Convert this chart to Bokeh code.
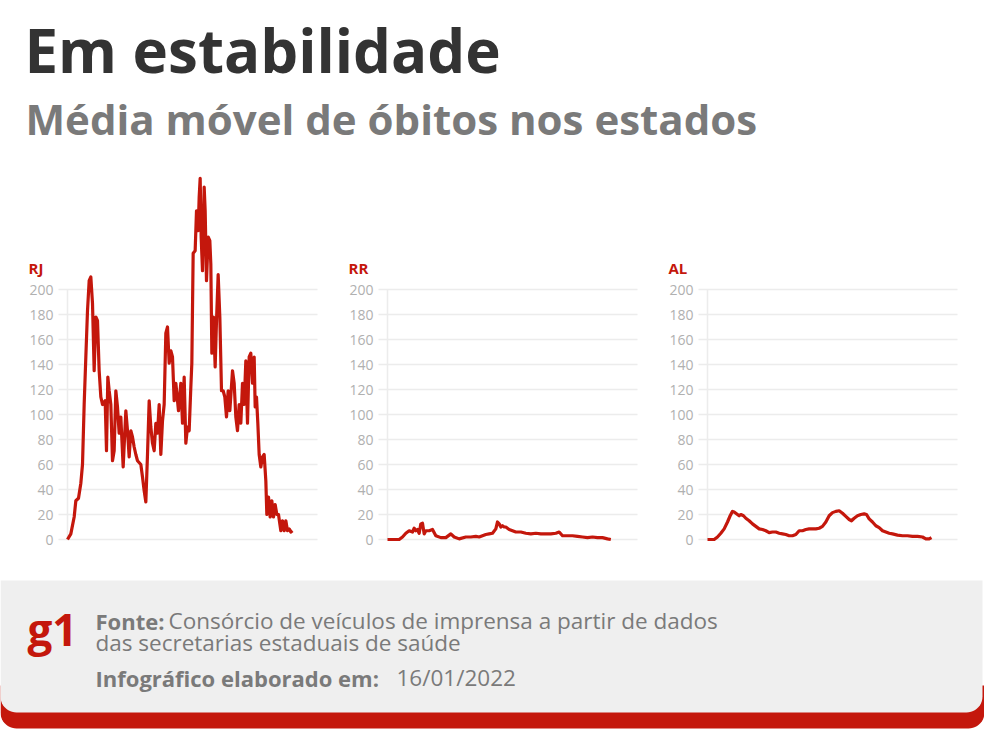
import numpy as np
from bokeh.plotting import figure
from bokeh.layouts import column, row
from bokeh.models import Range1d, Label
from bokeh.core.properties import value
from bokeh.embed import file_html
from bokeh.resources import INLINE

# ---------------- data ----------------
title_text = "Em estabilidade"
subtitle_text = "Média móvel de óbitos nos estados"
source_bold = "Fonte:"
source_text_1 = "Consórcio de veículos de imprensa a partir de dados"
source_text_2 = "das secretarias estaduais de saúde"
made_bold = "Infográfico elaborado em:"
made_date = "16/01/2022"

y_ticks = [0, 20, 40, 60, 80, 100, 120, 140, 160, 180, 200]
y_tick_labels = ["0", "20", "40", "60", "80", "100", "120", "140", "160", "180", "200"]

rj_days = [0, 10, 20, 25, 33, 40, 45, 50, 55, 60, 65, 70, 75, 80, 85, 90, 95, 100, 105, 113,
           117, 121, 125, 130, 135, 140, 145, 150, 155, 160, 167, 175, 180, 185, 190, 195, 200, 205, 210, 220,
           225, 230, 235, 240, 245, 250, 255, 260, 265, 270, 275, 280, 285, 290, 295, 300, 305, 310, 315, 320,
           325, 333, 340, 345, 350, 355, 360, 365, 370, 373, 377, 383, 387, 392, 395, 398, 401, 405, 410, 413,
           417, 422, 427, 430, 433, 438, 443, 447, 452, 457, 462, 467, 472, 477, 482, 487, 495, 500, 505, 510,
           515, 520, 525, 530, 535, 540, 545, 550, 555, 560, 563, 567, 571, 575, 580, 585, 590, 595, 598, 603,
           608, 613, 618, 623, 628, 633, 640, 645, 650, 655, 660, 665, 670, 675]
rj_vals = [0, 4.5, 18, 31, 33, 45, 60, 108, 146, 183, 207, 210, 189, 135, 178, 175, 135, 114, 108, 111,
           71, 130, 119, 108, 63, 71, 119, 106, 85, 98, 58, 103, 87, 66, 87, 82, 74, 68, 63, 60,
           50, 39, 30, 68, 111, 90, 77, 71, 93, 85, 108, 68, 95, 108, 165, 170, 141, 151, 146, 111,
           125, 103, 125, 93, 130, 77, 90, 87, 122, 141, 229, 231, 263, 247, 274, 289, 242, 215, 282, 263,
           207, 242, 239, 220, 149, 178, 138, 175, 212, 178, 119, 119, 114, 98, 119, 103, 135, 125, 98, 87,
           108, 93, 125, 108, 143, 93, 146, 149, 125, 146, 106, 114, 93, 68, 58, 66, 68, 47, 20, 34,
           18, 31, 18, 28, 20, 20, 7, 15, 7, 15, 7, 8.5, 6, 7]

rr_days = [0, 35, 45, 55, 65, 75, 80, 85, 90, 95, 100, 105, 110, 115, 125, 135, 145, 160, 175, 190,
           200, 215, 235, 250, 265, 275, 285, 295, 305, 315, 325, 330, 335, 340, 345, 350, 355, 365, 375, 385,
           400, 415, 430, 445, 460, 475, 490, 505, 515, 525, 540, 555, 570, 585, 600, 615, 630, 645, 660, 670]
rr_vals = [0, 0, 2, 5, 7, 6, 9, 7, 8, 5, 12.5, 13, 4.5, 7, 7, 8, 3, 1.5, 1.5, 4.5,
           2, 0.5, 2, 2, 2.5, 2, 3, 4, 4.5, 5, 8.5, 14, 12.5, 10, 11, 10, 10, 8, 7, 6,
           6, 5, 4.5, 5, 4.5, 4.5, 4.5, 5, 6, 3, 3, 3, 2.5, 2, 1.5, 2, 1.5, 1.5, 0.5, 0]

al_days = [0, 20, 30, 40, 50, 60, 68, 75, 80, 85, 90, 95, 100, 108, 115, 125, 135, 145, 155, 165,
           175, 185, 195, 205, 215, 225, 235, 245, 255, 265, 275, 285, 295, 305, 315, 325, 335, 345, 355, 365,
           375, 385, 395, 405, 415, 425, 432, 440, 450, 460, 470, 477, 485, 495, 505, 515, 525, 535, 545, 555,
           570, 585, 600, 615, 630, 645, 655, 665, 672]
al_vals = [0, 0, 2, 5, 8.5, 14, 19, 22.5, 22, 21, 20, 19, 20, 19, 17, 15, 12.5, 10.5, 8.5, 8,
           7, 5.5, 6, 6, 5, 4.5, 4, 3, 3, 4, 7, 7, 8, 8.5, 8.5, 8.5, 9, 10.5, 14, 19,
           21.5, 22.5, 23, 21, 18.5, 16, 15, 17, 19, 20, 20.5, 20, 16.5, 14, 11, 9.5, 7, 6, 5, 4.5,
           3.5, 3, 3, 2.5, 2.5, 2, 0.5, 0.5, 1.5]

states = ["RJ", "RR", "AL"]
series_days = [rj_days, rr_days, al_days]
series_vals = [rj_vals, rr_vals, al_vals]

# ---------------- style ----------------
RED = "#c4170c"
GRID = "#ececec"
TICK = "#b0b0b0"
FONT = "Open Sans"


def bare(width, height):
    p = figure(width=width, height=height, output_backend="svg", toolbar_location=None,
               x_range=Range1d(0, width), y_range=Range1d(height, 0),
               x_axis_location=None, y_axis_location=None, min_border=0)
    p.outline_line_color = None
    p.xgrid.visible = False
    p.ygrid.visible = False
    p.background_fill_color = "white"
    p.border_fill_color = "white"
    return p


def label(p, x, y, text, size, color, bold=False):
    # y is the wanted baseline; Bokeh's svg text sits ~0.4em lower, so compensate
    px = float(size.replace("px", ""))
    p.add_layout(Label(x=x, y=y - 0.4 * px, text=text, text_font=FONT,
                       text_font_size=size, text_color=color,
                       text_font_style="bold" if bold else "normal",
                       text_align="left", text_baseline="alphabetic"))


# ---------------- header ----------------
header = bare(984, 170)
label(header, 24, 73, title_text, "60px", "#333333", bold=True)
label(header, 25, 135, subtitle_text, "42px", "#7a7a7a", bold=True)

# ---------------- panels ----------------
PANEL_H = 390          # page y 170..560
DAY0_PX = 67           # local px of first day
DAYS_PER_PX = 3
Y_PER_PX = 0.8         # 200 units over 250 px
ZERO_PX = 369          # local px (from top) of value 0


def panel(name, days, vals, width):
    x0 = days[0] - DAY0_PX * DAYS_PER_PX
    x1 = x0 + width * DAYS_PER_PX
    y0 = y_ticks[0] - (PANEL_H - ZERO_PX) * Y_PER_PX
    y1 = y0 + PANEL_H * Y_PER_PX
    p = figure(width=width, height=PANEL_H, output_backend="svg", toolbar_location=None,
               x_range=Range1d(x0, x1), y_range=Range1d(y0, y1),
               x_axis_location=None, y_axis_location=None, min_border=0)
    p.outline_line_color = None
    p.background_fill_color = "white"
    p.border_fill_color = "white"
    p.xgrid.visible = False
    p.ygrid.visible = False

    gx0 = x0 + 58 * DAYS_PER_PX
    gx1 = x0 + 317 * DAYS_PER_PX
    n = len(y_ticks)
    p.segment(x0=[gx0] * n, y0=y_ticks, x1=[gx1] * n, y1=y_ticks,
              line_color=GRID, line_width=1.5)
    p.segment(x0=[days[0]], y0=[y_ticks[0]], x1=[days[0]], y1=[y_ticks[-1]],
              line_color=GRID, line_width=1.5)
    p.text(x=[x0 + 53 * DAYS_PER_PX] * n, y=y_ticks, text=y_tick_labels,
           text_font=value(FONT), text_font_size="14px", text_color=TICK,
           text_align="right", text_baseline="middle")
    p.line(days, vals, line_color=RED, line_width=3.2, line_join="round")
    p.text(x=[x0 + 28 * DAYS_PER_PX], y=[y_ticks[-1] + 22 * Y_PER_PX], text=[name],
           text_font=value(FONT), text_font_size="15px", text_font_style="bold",
           text_color=RED, text_align="left", text_baseline="middle")
    return p


widths = [320, 320, 344]
panels = [panel(n, d, v, w) for n, d, v, w in zip(states, series_days, series_vals, widths)]

# ---------------- footer ----------------
footer = bare(984, 182)


def rounded_bottom(x0, x1, y0, y1, r):
    xs, ys = [x0, x1], [y0, y0]
    t = np.linspace(0, np.pi / 2, 12)
    xs += list(x1 - r + r * np.cos(t)); ys += list(y1 - r + r * np.sin(t))
    t = np.linspace(np.pi / 2, np.pi, 12)
    xs += list(x0 + r + r * np.cos(t)); ys += list(y1 - r + r * np.sin(t))
    return xs, ys


rx, ry = rounded_bottom(0, 984, 125, 168, 16)
footer.patch(rx, ry, fill_color=RED, line_color=None)
gx, gy = rounded_bottom(0, 982, 20, 152, 16)
footer.patch(gx, gy, fill_color="#efefef", line_color=None)

label(footer, 27, 86, "g1", "44px", RED, bold=True)
FT = "#7a7a7a"
label(footer, 95, 69, source_bold, "22px", FT, bold=True)
label(footer, 168, 69, source_text_1, "22.5px", FT)
label(footer, 95, 91, source_text_2, "22.5px", FT)
label(footer, 95, 126, made_bold, "22px", FT, bold=True)
label(footer, 396, 126, made_date, "22.5px", FT)

layout = column(header, row(*panels), footer)
open("out.html", "w").write(file_html(layout, INLINE))
